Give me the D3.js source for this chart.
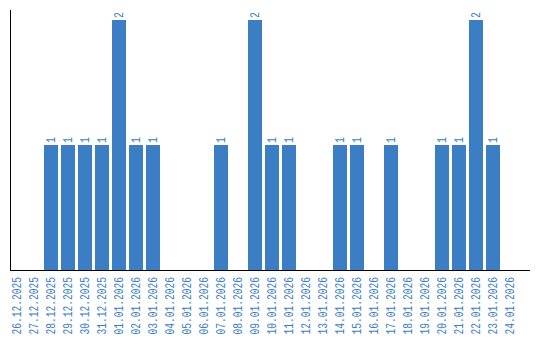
<!DOCTYPE html>
<html><head><meta charset="utf-8">
<script src="https://cdn.jsdelivr.net/npm/d3@7"></script>
<style>body{margin:0;background:#fff}svg{display:block}</style>
</head><body>
<script>
const categories = ["26.12.2025","27.12.2025","28.12.2025","29.12.2025","30.12.2025","31.12.2025","01.01.2026","02.01.2026","03.01.2026","04.01.2026","05.01.2026","06.01.2026","07.01.2026","08.01.2026","09.01.2026","10.01.2026","11.01.2026","12.01.2026","13.01.2026","14.01.2026","15.01.2026","16.01.2026","17.01.2026","18.01.2026","19.01.2026","20.01.2026","21.01.2026","22.01.2026","23.01.2026","24.01.2026"];
const values = [0,0,1,1,1,1,2,1,1,0,0,0,1,0,2,1,1,0,0,1,1,0,1,0,0,1,1,2,1,0];

const W = 540, H = 340;
const color = "#3b7ec4";
const svg = d3.select("body").append("svg").attr("width", W).attr("height", H);

const x = d3.scaleBand().domain(categories).range([10, 520])
  .paddingInner(3/17).paddingOuter(3/34).align(0);
const y = d3.scaleLinear().domain([0, 2]).range([270, 20]);

const data = categories.map((c, i) => ({c, v: values[i]}));

svg.selectAll("rect.bar").data(data.filter(d => d.v > 0)).enter().append("rect")
  .attr("x", d => x(d.c)).attr("width", x.bandwidth())
  .attr("y", d => y(d.v)).attr("height", d => y(0) - y(d.v))
  .attr("fill", color);

svg.selectAll("text.val").data(data.filter(d => d.v > 0)).enter().append("text")
  .attr("transform", d => `translate(${x(d.c) + x.bandwidth()/2 + 4},${y(d.v) - 2}) rotate(-90) scale(0.82,1)`)
  .attr("font-family", "Liberation Mono").attr("font-size", 12)
  .attr("fill", color).text(d => d.v);

// axes
svg.append("line").attr("x1", 10.5).attr("x2", 10.5).attr("y1", 10).attr("y2", 270.5)
  .attr("stroke", "#000");
svg.append("line").attr("x1", 10).attr("x2", 530).attr("y1", 270.5).attr("y2", 270.5)
  .attr("stroke", "#000");

svg.selectAll("text.tick").data(categories).enter().append("text")
  .attr("transform", d => `translate(${x(d) + x.bandwidth()/2 + 4},277) rotate(-90) scale(0.8,1)`)
  .attr("text-anchor", "end")
  .attr("font-family", "Liberation Mono").attr("font-size", 12)
  .attr("fill", color).text(d => d);
</script>
</body></html>
